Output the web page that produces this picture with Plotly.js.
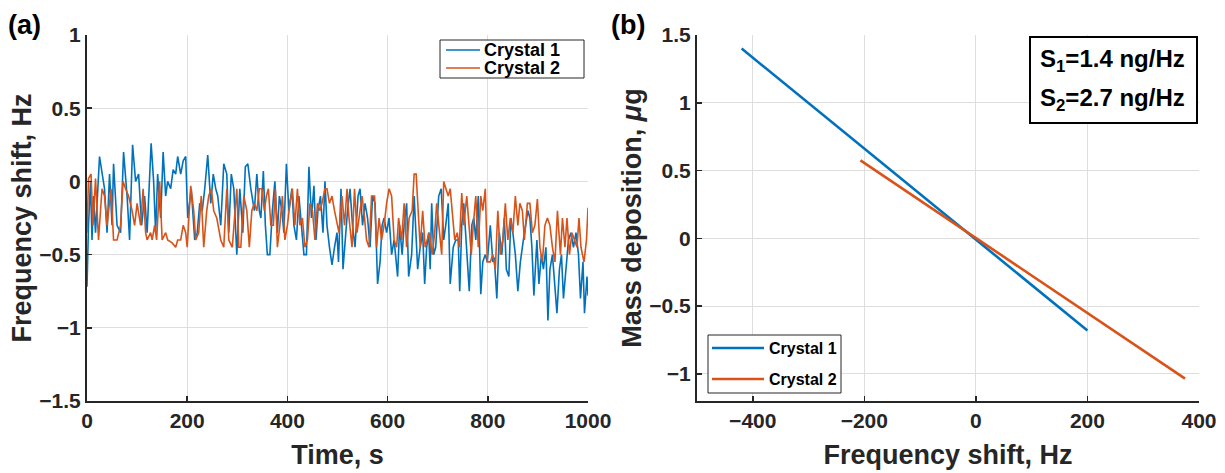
<!DOCTYPE html>
<html>
<head>
<meta charset="utf-8">
<script src="https://cdn.plot.ly/plotly-3.0.1.min.js"></script>
<style>html,body{margin:0;padding:0;background:#fff;}#chart{width:1225px;height:473px;}</style>
</head>
<body>
<div id="chart"></div>
<script>
// Panel (a): time series
const time1 = [0,3,7,10,13,17,25,30,35,40,45,50,53,60,67,73,80,85,91,97,103,109,115,120,128,133,137,141,147,152,157,161,167,172,177,181,187,192,197,201,208,215,220,225,230,235,241,247,252,257,261,267,273,279,283,288,293,299,305,311,316,321,327,334,339,344,347,352,356,360,365,370,375,380,384,389,393,398,403,409,413,418,423,428,433,438,443,448,453,457,461,466,471,475,479,484,489,494,499,502,507,511,516,520,525,530,535,541,545,550,555,560,565,570,575,580,585,589,593,598,603,608,613,620,624,629,633,638,642,648,653,660,665,670,674,678,682,685,688,692,696,702,707,712,716,721,725,731,736,741,744,748,752,758,763,768,772,776,781,786,790,795,799,805,810,813,818,823,828,833,837,842,846,850,855,860,865,871,875,880,884,888,892,898,902,907,911,916,920,924,929,934,938,943,947,951,956,961,966,971,976,981,985,990,993,998,1000];
const crystal1 = [-0.72,-0.3,0.0,-0.4,-0.1,-0.35,0.17,0.05,-0.05,-0.35,0.05,-0.3,0.12,-0.3,-0.35,0.2,-0.1,-0.4,0.25,0.0,0.05,-0.3,-0.1,-0.35,0.26,0.0,-0.35,0.05,-0.25,0.2,-0.1,0.0,-0.05,0.08,0.05,0.17,0.05,0.14,0.17,-0.25,-0.05,-0.4,-0.35,-0.15,-0.2,-0.05,0.18,-0.15,0.05,-0.05,-0.1,-0.3,0.12,0.05,-0.35,0.05,-0.05,-0.5,-0.05,-0.35,0.1,0.12,-0.05,-0.2,0.05,-0.2,-0.25,0.07,-0.3,-0.5,-0.5,-0.2,0.0,-0.35,-0.1,-0.2,-0.35,0.12,-0.2,-0.05,-0.3,-0.4,-0.1,-0.3,-0.5,-0.5,0.1,-0.25,-0.03,-0.4,-0.2,-0.1,-0.35,0.0,-0.3,-0.45,-0.57,-0.45,-0.35,-0.55,-0.05,-0.6,-0.35,-0.2,-0.05,-0.3,-0.45,-0.1,-0.05,-0.3,-0.15,-0.25,-0.45,-0.1,-0.15,-0.7,-0.55,-0.3,-0.25,-0.35,-0.25,-0.5,-0.4,-0.65,-0.3,-0.5,-0.3,-0.15,-0.65,-0.5,-0.1,-0.6,-0.45,-0.35,-0.7,-0.45,-0.35,-0.6,-0.15,-0.5,-0.45,-0.1,-0.05,-0.4,-0.3,-0.15,-0.7,-0.45,-0.4,-0.4,-0.75,-0.3,-0.15,-0.5,-0.75,-0.3,-0.25,-0.4,-0.1,-0.77,-0.55,-0.5,-0.55,-0.3,-0.55,-0.52,-0.8,-0.35,-0.5,-0.25,-0.6,-0.65,-0.25,-0.35,-0.5,-0.75,-0.55,-0.4,-0.3,-0.2,-0.25,-0.45,-0.78,-0.4,-0.7,-0.5,-0.6,-0.45,-0.95,-0.6,-0.5,-0.75,-0.9,-0.6,-0.5,-0.8,-0.6,-0.4,-0.35,-0.45,-0.35,-0.5,-0.8,-0.55,-0.9,-0.65,-0.78];
const time2 = [0,3,8,12,17,23,30,35,40,48,53,60,67,72,77,83,90,95,100,107,112,117,120,127,130,135,139,145,150,157,161,170,177,181,187,192,197,200,207,213,217,223,228,233,239,243,248,253,259,267,273,279,283,290,299,303,307,313,319,324,329,334,339,344,349,354,358,362,367,372,376,380,385,390,395,400,405,410,415,420,425,430,435,440,445,450,455,460,465,469,475,479,484,489,494,499,503,509,514,519,523,529,534,539,543,549,554,558,563,568,574,578,583,588,593,598,603,608,613,618,622,628,633,638,643,649,653,657,661,665,670,675,679,683,689,694,698,702,708,712,716,721,725,729,734,739,743,748,752,758,763,767,771,776,781,786,790,795,799,805,810,815,820,825,830,835,840,845,850,855,860,864,869,873,879,884,889,894,899,904,909,914,919,924,929,934,939,945,949,954,958,963,968,973,978,982,986,992,997,1000];
const crystal2 = [-0.35,0.02,0.05,-0.3,0.02,-0.4,-0.05,-0.1,-0.3,-0.05,-0.4,-0.4,-0.3,0.0,-0.05,-0.1,-0.2,-0.3,-0.15,-0.3,-0.05,-0.35,-0.4,-0.35,-0.4,-0.3,-0.4,0.0,-0.4,-0.35,-0.4,-0.42,-0.45,-0.4,-0.4,-0.3,-0.35,-0.45,-0.03,-0.2,-0.4,-0.35,-0.1,-0.45,-0.2,-0.1,-0.05,-0.2,-0.25,-0.4,-0.45,-0.05,-0.4,-0.45,-0.05,-0.45,-0.45,-0.1,-0.2,-0.45,-0.2,-0.15,-0.2,-0.05,-0.05,-0.2,-0.1,-0.05,-0.3,-0.3,-0.05,-0.45,-0.3,-0.1,-0.4,-0.3,-0.15,-0.05,-0.3,-0.05,-0.3,-0.25,-0.45,-0.4,-0.15,-0.2,-0.4,-0.15,-0.2,-0.15,-0.05,-0.05,-0.15,-0.1,-0.2,-0.3,-0.35,-0.1,-0.3,-0.05,-0.25,-0.45,-0.05,-0.35,-0.25,-0.1,-0.25,-0.4,-0.45,-0.1,-0.1,-0.45,-0.25,-0.4,-0.3,-0.15,-0.05,-0.1,-0.4,-0.45,-0.25,-0.4,-0.15,-0.45,-0.25,-0.2,0.05,0.05,-0.2,-0.45,-0.2,-0.45,-0.4,-0.35,-0.5,-0.35,-0.15,-0.3,-0.5,0.0,-0.05,-0.1,-0.05,-0.2,-0.4,-0.35,-0.45,-0.08,-0.3,-0.1,-0.3,-0.5,-0.3,-0.1,-0.45,-0.1,-0.2,-0.05,-0.55,-0.55,-0.5,-0.6,-0.2,-0.5,-0.4,-0.15,-0.4,-0.25,-0.35,-0.1,-0.3,-0.15,-0.2,-0.4,-0.15,-0.15,-0.35,-0.3,-0.12,-0.45,-0.55,-0.3,-0.25,-0.3,-0.45,-0.55,-0.2,-0.5,-0.25,-0.45,-0.25,-0.5,-0.35,-0.4,-0.45,-0.25,-0.45,-0.55,-0.4,-0.18];

// Panel (b): calibration lines
const shift1 = [-420, 200];
const mass1 = [1.4, -0.68];
const shift2 = [-207, 375];
const mass2 = [0.575, -1.035];

const seriesNames = ['Crystal 1', 'Crystal 2'];
const sensLabels = ['S<sub>1</sub>=1.4 ng/Hz', 'S<sub>2</sub>=2.7 ng/Hz'];
const timeTicks = [0, 200, 400, 600, 800, 1000];
const freqTicks = [-1.5, -1, -0.5, 0, 0.5, 1];
const shiftTicks = [-400, -200, 0, 200, 400];
const massTicks = [-1, -0.5, 0, 0.5, 1, 1.5];

const blue = '#0072BD', orange = '#D95319';
const colors = [blue, orange];
const FONT = 'Liberation Sans, Arial, sans-serif';
const tickFont = {family: FONT, size: 21, color: '#262626', weight: 'bold'};
const titleFont = {family: FONT, size: 27, color: '#262626', weight: 'bold'};

const W = 1225, H = 473;
const px = v => v / W, py = v => 1 - v / H;

const traces = [
  {x: time1, y: crystal1, name: seriesNames[0], type: 'scatter', mode: 'lines', line: {color: blue, width: 1.6}, xaxis: 'x', yaxis: 'y'},
  {x: time2, y: crystal2, name: seriesNames[1], type: 'scatter', mode: 'lines', line: {color: orange, width: 1.6}, xaxis: 'x', yaxis: 'y'},
  {x: shift1, y: mass1, name: seriesNames[0], type: 'scatter', mode: 'lines', line: {color: blue, width: 2.6}, xaxis: 'x2', yaxis: 'y2'},
  {x: shift2, y: mass2, name: seriesNames[1], type: 'scatter', mode: 'lines', line: {color: orange, width: 2.6}, xaxis: 'x2', yaxis: 'y2'}
];

function ax(extra) {
  return Object.assign({
    showline: true, linecolor: '#262626', linewidth: 2, mirror: false,
    ticks: 'inside', ticklen: 5, tickwidth: 1.5, tickcolor: '#262626',
    showgrid: true, gridcolor: '#dedede', gridwidth: 1,
    zeroline: false, tickfont: tickFont, fixedrange: true
  }, extra);
}

// manual legends (box + sample line + label)
const shapes = [], annotations = [];
function legendBox(x0, x1, y0, y1, rows, lx0, lx1, tx, lw, fs) {
  shapes.push({type: 'rect', xref: 'paper', yref: 'paper', x0: px(x0), x1: px(x1), y0: py(y1), y1: py(y0),
    line: {color: '#262626', width: 1}, fillcolor: '#fff', layer: 'above'});
  rows.forEach((ry, i) => {
    shapes.push({type: 'line', xref: 'paper', yref: 'paper', x0: px(lx0), x1: px(lx1), y0: py(ry), y1: py(ry),
      line: {color: colors[i], width: lw}, layer: 'above'});
    annotations.push({xref: 'paper', yref: 'paper', x: px(tx), y: py(ry), xanchor: 'left', yanchor: 'middle',
      text: seriesNames[i], showarrow: false, font: {family: FONT, size: fs, color: '#000', weight: 'bold'}});
  });
}
legendBox(440, 584, 40, 78, [50, 68], 446, 480, 482, 1.6, 18);
legendBox(708, 841, 335, 393, [348, 379], 712, 764, 767, 2.6, 16);

// sensitivity box
shapes.push({type: 'rect', xref: 'paper', yref: 'paper', x0: px(1030), x1: px(1197), y0: py(123), y1: py(37),
  line: {color: '#000', width: 2}, fillcolor: '#fff', layer: 'above'});
sensLabels.forEach((t, i) => {
  annotations.push({xref: 'paper', yref: 'paper', x: px(1038), y: py(i === 0 ? 60 : 99), xanchor: 'left', yanchor: 'middle',
    text: t, showarrow: false, font: {family: FONT, size: 24, color: '#000', weight: 'bold'}});
});

annotations.push({xref: 'paper', yref: 'paper', x: px(6), y: py(25), xanchor: 'left', yanchor: 'middle',
  text: '(a)', showarrow: false, font: {family: FONT, size: 27, color: '#000', weight: 'bold'}});
annotations.push({xref: 'paper', yref: 'paper', x: px(609), y: py(25), xanchor: 'left', yanchor: 'middle',
  text: '(b)', showarrow: false, font: {family: FONT, size: 27, color: '#000', weight: 'bold'}});

const yd = [1 - 401/H, 1 - 35/H];
const layout = {
  width: W, height: H,
  margin: {l: 0, r: 0, t: 0, b: 0},
  paper_bgcolor: '#fff', plot_bgcolor: '#fff',
  showlegend: false,
  font: {family: FONT},
  xaxis: ax({domain: [87/W, 588/W], range: [0, 1000], tickvals: timeTicks, anchor: 'y',
    title: {text: 'Time, s', font: titleFont, standoff: 14}}),
  yaxis: ax({domain: yd, range: [-1.5, 1], tickvals: freqTicks, anchor: 'x',
    title: {text: 'Frequency shift, Hz', font: titleFont, standoff: 0}}),
  xaxis2: ax({domain: [697/W, 1199/W], range: [-500, 400], tickvals: shiftTicks, anchor: 'y2',
    title: {text: 'Frequency shift, Hz', font: titleFont, standoff: 14}}),
  yaxis2: ax({domain: yd, range: [-1.2, 1.5], tickvals: massTicks, anchor: 'x2',
    title: {text: 'Mass deposition, <i>μ</i>g', font: titleFont, standoff: 0}}),
  shapes: shapes,
  annotations: annotations
};

Plotly.newPlot('chart', traces, layout, {staticPlot: true, displayModeBar: false});
</script>
</body>
</html>
